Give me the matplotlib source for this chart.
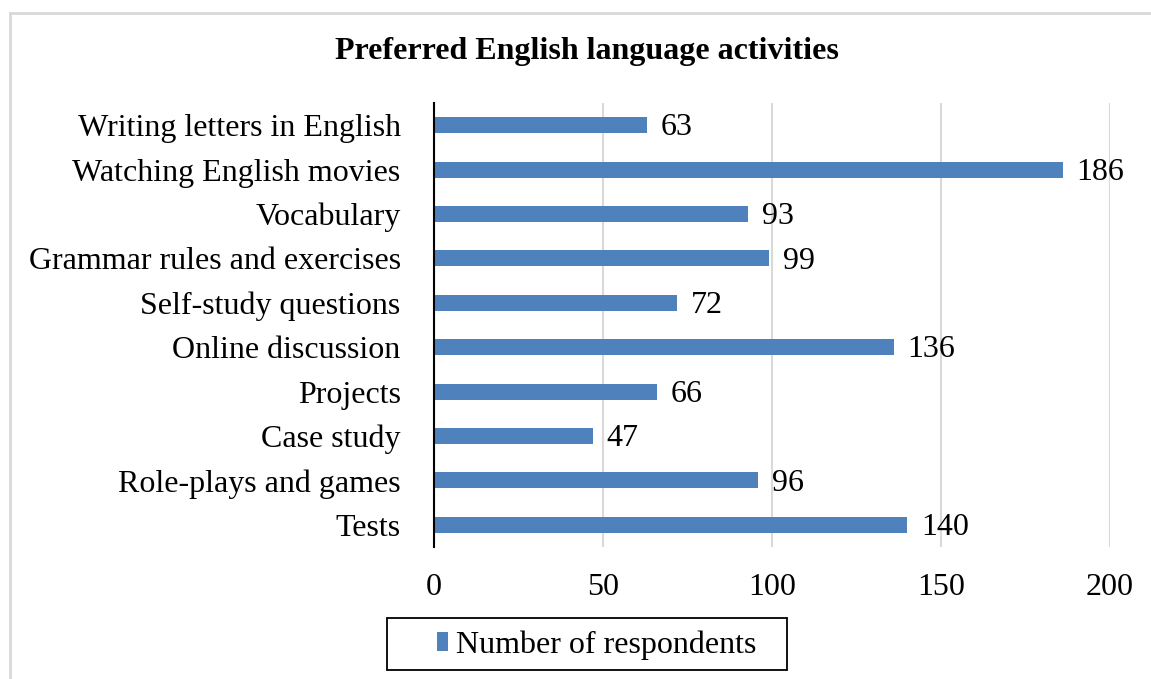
import matplotlib.pyplot as plt
from matplotlib.lines import Line2D
from matplotlib.patches import Rectangle

activities = ["Writing letters in English", "Watching English movies", "Vocabulary",
              "Grammar rules and exercises", "Self-study questions", "Online discussion",
              "Projects", "Case study", "Role-plays and games", "Tests"]
respondents = [63, 186, 93, 99, 72, 136, 66, 47, 96, 140]
x_ticks = [0, 50, 100, 150, 200]

plt.rcParams['font.family'] = ['Liberation Serif', 'DejaVu Serif']

W, H = 1151, 679
fig = plt.figure(figsize=(W / 100, H / 100), dpi=100)
ax = fig.add_axes([434 / W, 1 - 547 / H, (1110 - 434) / W, (547 - 103) / H])

pos = list(range(len(activities)))
bars = ax.barh(pos, respondents, height=0.36, color='#4F81BD', zorder=3,
               label='Number of respondents')
for p, v in zip(pos, respondents):
    ax.annotate(str(v), (v, p), xytext=(10, -2), textcoords='offset points',
                va='center', ha='left', fontsize=23)

ax.set_ylim(len(activities) - 0.5, -0.5)
ax.set_yticks(pos)
ax.set_yticklabels(activities, fontsize=23)
ax.set_xlim(0, 200)
ax.set_xticks(x_ticks)
ax.set_xticklabels([str(t) for t in x_ticks], fontsize=23)
ax.tick_params(axis='both', length=0)
ax.tick_params(axis='y', pad=24)
ax.tick_params(axis='x', pad=19)
ax.grid(axis='x', color='#D9D9D9', linewidth=1.5, zorder=0)
for s in ['top', 'right', 'bottom']:
    ax.spines[s].set_visible(False)
ax.spines['left'].set_linewidth(1.5)
ax.spines['left'].set_zorder(4)

fig.text(587 / W, 1 - 51 / H, 'Preferred English language activities',
         ha='center', va='center', fontsize=23, fontweight='bold')

# legend entry without frame, box drawn separately
leg = fig.legend(handles=[bars], loc='center left', bbox_to_anchor=(437 / W, 1 - 645 / H),
                 fontsize=23, frameon=False, handlelength=0.35, handleheight=0.5,
                 handletextpad=0.25, borderpad=0, borderaxespad=0)
fig.add_artist(Rectangle((387 / W, 1 - 670 / H), 400 / W, 52 / H, transform=fig.transFigure,
                         fill=False, edgecolor='black', linewidth=1.3))

# light chart-area border along top and left
fig.add_artist(Line2D([10 / W, 1], [1 - 13 / H, 1 - 13 / H], color='#D9D9D9', lw=2))
fig.add_artist(Line2D([10 / W, 10 / W], [0, 1 - 13 / H], color='#D9D9D9', lw=2))

fig.savefig('out.png', dpi=100)
